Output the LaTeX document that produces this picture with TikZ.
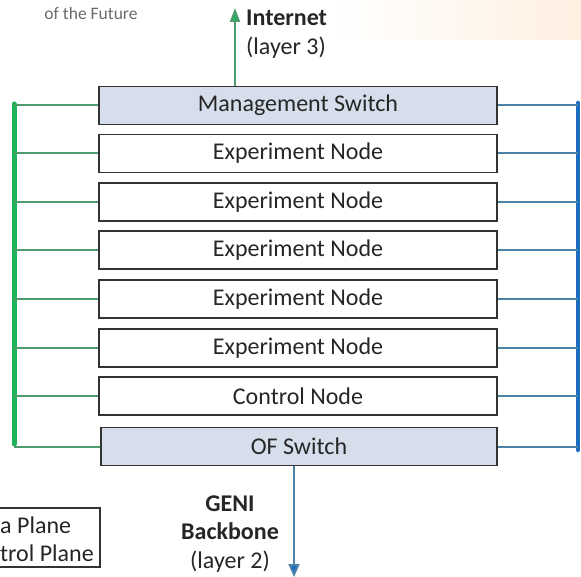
\documentclass[tikz,border=0pt]{standalone}
\usepackage{fontspec}
\setmainfont{Carlito}
\usetikzlibrary{arrows.meta,calc}
\definecolor{boxline}{HTML}{333333}
\definecolor{swfill}{HTML}{D5DEEA}
\definecolor{gthick}{HTML}{1DB158}
\definecolor{gthin}{HTML}{4E9C6E}
\definecolor{bthick}{HTML}{1E6DBE}
\definecolor{bthin}{HTML}{4A82A8}
\definecolor{txt}{HTML}{262626}
\definecolor{logo}{HTML}{6B6B6B}
\tikzset{
  nodebox/.style={draw=boxline, line width=1.5pt, fill=white, minimum width=398pt, minimum height=38pt, inner sep=0pt, font=\fontsize{24}{28}\selectfont, text=txt},
  swbox/.style={nodebox, fill=swfill},
  gline/.style={draw=gthin, line width=2pt},
  bline/.style={draw=bthin, line width=2pt},
  lbl/.style={font=\fontsize{24}{28.5}\selectfont, text=txt, inner sep=0pt, align=center}
}
\begin{document}
\begin{tikzpicture}[x=1pt,y=-1pt]
\useasboundingbox (0,0) rectangle (581,577);
\fill[white] (0,0) rectangle (581,577);
\shade[left color=white, right color=orange!12, draw=none] (330,0) rectangle (581,40);
% logo fragment
\node[font=\fontsize{17.5}{20}\selectfont, text=logo, inner sep=0pt] (logo) at (91,13) {of the Future};
% boxes
\node[swbox] (m) at (298,105.5) {Management Switch};
\node[nodebox] (e1) at (298,153.5) {Experiment Node};
\node[nodebox] (e2) at (298,202) {Experiment Node};
\node[nodebox] (e3) at (298,250) {Experiment Node};
\node[nodebox] (e4) at (298,299) {Experiment Node};
\node[nodebox] (e5) at (298,348) {Experiment Node};
\node[nodebox] (c) at (298,396) {Control Node};
\node[swbox, minimum width=396pt] (of) at (299,446.5) {OF Switch};
% bars
\coordinate (gtop) at (14,104);
\coordinate (gbot) at (14,444);
\coordinate (btop) at (578,103);
\coordinate (bbot) at (578,450);
\draw[gthick, line width=5pt, line cap=round] (gtop) -- (gbot);
\draw[bthick, line width=4.5pt, line cap=round] (btop) -- (bbot);
\foreach \n in {m,e1,e2,e3,e4,e5,c,of}{
  \draw[gline] (\n.west) -- (\n.west -| gtop);
  \draw[bline] (\n.east) -- (\n.east -| btop);
}
% internet arrow
\coordinate (inet) at (235,8);
\draw[draw=gthin, line width=2pt, -{Triangle[length=14pt,width=10pt,fill=gthick]}] (m.north -| inet) -- (inet);
\node[lbl, anchor=west, align=left] (il) at (246,34) {\textbf{Internet}\\(layer 3)};
% geni arrow
\coordinate (geni) at (294,577);
\draw[draw=bthin, line width=2pt, -{Triangle[length=13pt,width=11pt,fill=bthick]}] (of.south -| geni) -- (geni);
\node[lbl] (gl) at (230,534) {\textbf{GENI}\\\textbf{Backbone}\\(layer 2)};
% legend fragment
\node[draw=boxline, line width=1.5pt, fill=white, minimum width=104pt, minimum height=59pt, inner sep=0pt] (leg) at (48,537.5) {};
\node[lbl, anchor=west] (l1) at (0,525) {a Plane};
\node[lbl, anchor=west] (l2) at (0,553) {trol Plane};
\end{tikzpicture}
\end{document}
